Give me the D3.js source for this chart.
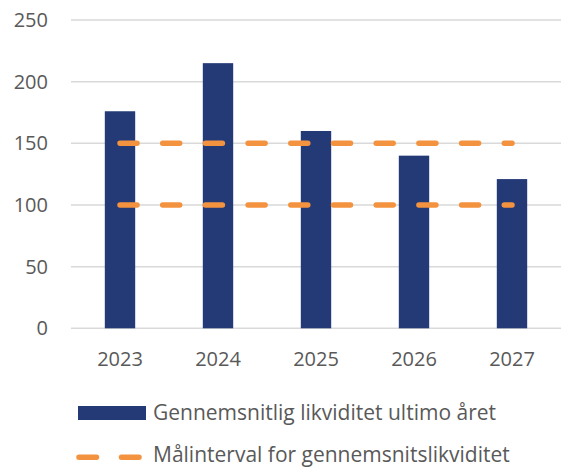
<!DOCTYPE html>
<html>
<head>
<meta charset="utf-8">
<script src="https://cdn.jsdelivr.net/npm/d3@7"></script>
<style>
  body { margin: 0; background: #fff; }
  svg text { font-family: "Open Sans", sans-serif; fill: #595959; }
</style>
</head>
<body>
<div id="chart"></div>
<script>
// data
const years = ["2023", "2024", "2025", "2026", "2027"];
const likviditet = [176, 215, 160, 140, 121];
const maalLav = [100, 100, 100, 100, 100];
const maalHoej = [150, 150, 150, 150, 150];
const yTicks = [0, 50, 100, 150, 200, 250];
const legendLabels = ["Gennemsnitlig likviditet ultimo året", "Målinterval for gennemsnitslikviditet"];

const width = 563, height = 469;
const barColor = "#243a76", lineColor = "#f3923f";

const svg = d3.select("#chart").append("svg")
    .attr("width", width)
    .attr("height", height);

const x = d3.scaleBand()
    .domain(years)
    .range([71, 561])
    .paddingInner(0.69)
    .paddingOuter(0.345);

const y = d3.scaleLinear()
    .domain([0, 250])
    .range([328.3, 20]);

// gridlines
svg.append("g")
    .selectAll("line")
    .data(yTicks)
    .join("line")
    .attr("x1", 71)
    .attr("x2", 561)
    .attr("y1", d => y(d))
    .attr("y2", d => y(d))
    .attr("stroke", "#d9d9d9")
    .attr("stroke-width", 1.5);

// y labels
svg.append("g")
    .selectAll("text")
    .data(yTicks)
    .join("text")
    .attr("x", 48)
    .attr("y", d => y(d))
    .attr("dy", "0.35em")
    .attr("text-anchor", "end")
    .style("font-size", "20px")
    .text(d => d);

// bars
svg.append("g")
    .selectAll("rect")
    .data(likviditet)
    .join("rect")
    .attr("x", (d, i) => x(years[i]))
    .attr("width", x.bandwidth())
    .attr("y", d => y(d))
    .attr("height", d => y(0) - y(d))
    .attr("fill", barColor);

// target interval lines
const line = d3.line()
    .x((d, i) => x(years[i]) + x.bandwidth() / 2)
    .y(d => y(d));

[maalHoej, maalLav].forEach(series => {
    svg.append("path")
        .datum(series)
        .attr("d", line)
        .attr("fill", "none")
        .attr("stroke", lineColor)
        .attr("stroke-width", 5.5)
        .attr("stroke-linecap", "round")
        .attr("stroke-dasharray", "17,25.7");
});

// x labels
svg.append("g")
    .selectAll("text")
    .data(years)
    .join("text")
    .attr("x", d => x(d) + x.bandwidth() / 2)
    .attr("y", 359)
    .attr("dy", "0.35em")
    .attr("text-anchor", "middle")
    .style("font-size", "20px")
    .text(d => d);

// legend
const legend = svg.append("g");
legend.append("rect")
    .attr("x", 78)
    .attr("y", 406)
    .attr("width", 68)
    .attr("height", 14)
    .attr("fill", barColor);
legend.append("line")
    .attr("x1", 79).attr("x2", 141)
    .attr("y1", 457.3).attr("y2", 457.3)
    .attr("stroke", lineColor)
    .attr("stroke-width", 5.5)
    .attr("stroke-linecap", "round")
    .attr("stroke-dasharray", "17.5,25");
legend.selectAll("text")
    .data(legendLabels)
    .join("text")
    .attr("x", 153)
    .attr("y", (d, i) => 413 + i * 42)
    .attr("dy", "0.35em")
    .style("font-size", "21px")
    .text(d => d);
</script>
</body>
</html>
